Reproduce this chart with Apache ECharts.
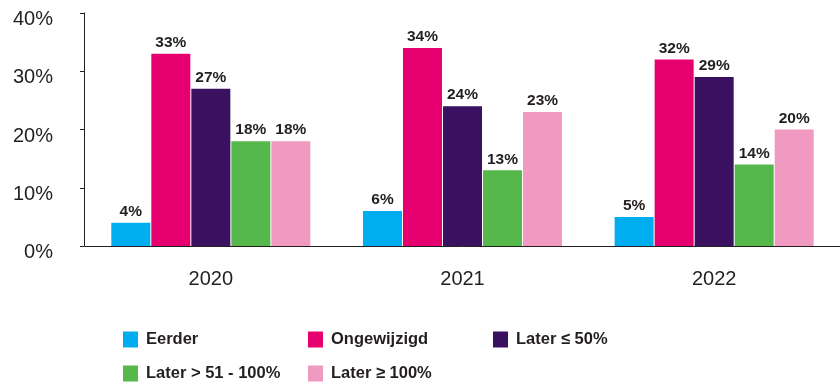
<!DOCTYPE html>
<html>
<head>
<meta charset="utf-8">
<script src="https://cdn.jsdelivr.net/npm/echarts@6/dist/echarts.min.js"></script>
<style>
html,body{margin:0;padding:0;background:#fff;}
#chart{width:840px;height:385px;}
</style>
</head>
<body>
<div id="chart"></div>
<script>
const years = ['2020', '2021', '2022'];
const seriesNames = ['Eerder', 'Ongewijzigd', 'Later ≤ 50%', 'Later > 51 - 100%', 'Later ≥ 100%'];
const eerder = [4, 6, 5];
const ongewijzigd = [33, 34, 32];
const laterTot50 = [27, 24, 29];
const later51Tot100 = [18, 13, 14];
const laterVanaf100 = [18, 23, 20];
const yTicks = [0, 10, 20, 30, 40];
const colors = ['#00aeef', '#e6006f', '#3a1160', '#56b84a', '#f09ac1'];

const values = [eerder, ongewijzigd, laterTot50, later51Tot100, laterVanaf100];
const font = 'Liberation Sans, Arial, sans-serif';
const ink = '#231f20';

// legend item placement (two rows of three columns)
const legendPos = [
  { left: 123, top: 331 },
  { left: 308, top: 331 },
  { left: 493, top: 331 },
  { left: 123, top: 365 },
  { left: 308, top: 365 }
];

const chart = echarts.init(document.getElementById('chart'));
chart.setOption({
  animation: false,
  color: colors,
  textStyle: { fontFamily: font },
  grid: { left: 85, right: -3, top: 13, bottom: 139 },
  legend: seriesNames.map((n, i) => ({
    data: [n],
    left: legendPos[i].left,
    top: legendPos[i].top,
    itemWidth: 15,
    itemHeight: 16,
    itemGap: 0,
    icon: 'rect',
    selectedMode: false,
    textStyle: { fontFamily: font, fontSize: 16.5, fontWeight: 'bold', color: ink, padding: [0, 0, 0, 3] },
    padding: 0
  })),
  xAxis: {
    type: 'category',
    data: years,
    axisLine: { lineStyle: { color: ink, width: 1 } },
    axisTick: { show: false },
    axisLabel: { color: ink, fontSize: 20, margin: 23 }
  },
  yAxis: {
    type: 'value',
    min: yTicks[0],
    max: yTicks[yTicks.length - 1],
    interval: 10,
    offset: 1,
    axisLine: { show: true, lineStyle: { color: ink, width: 1 } },
    axisTick: { show: true, length: 4, lineStyle: { color: ink } },
    splitLine: { show: false },
    // tick labels sit just below their tick marks
    axisLabel: { color: ink, fontSize: 20, margin: 31, verticalAlign: 'top', lineHeight: 13, formatter: v => v + '%' }
  },
  series: seriesNames.map((n, i) => ({
    name: n,
    type: 'bar',
    data: values[i],
    barWidth: 39,
    barGap: '2.6%',
    label: {
      show: true,
      position: 'top',
      distance: 3,
      formatter: p => p.value + '%',
      color: ink,
      fontSize: 15.5,
      fontWeight: 'bold'
    }
  }))
});
</script>
</body>
</html>
